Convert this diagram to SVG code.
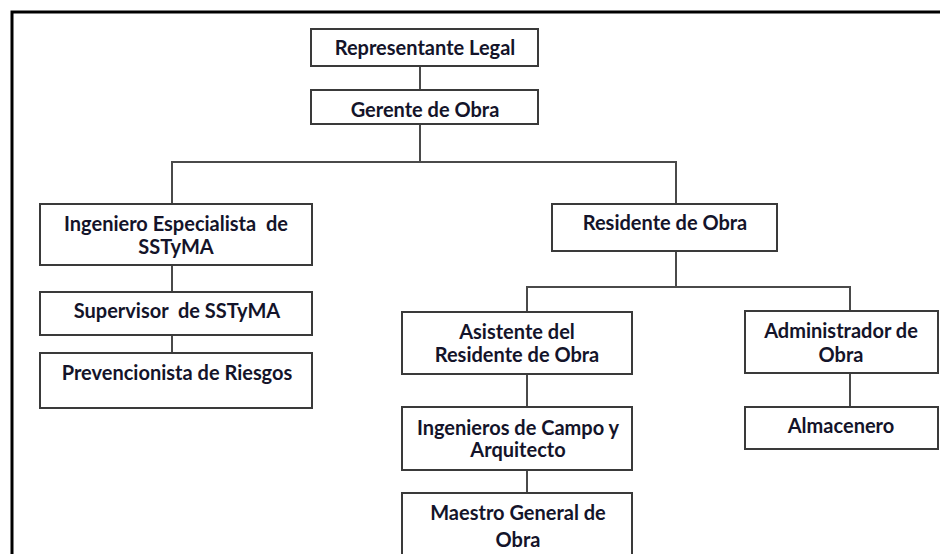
<svg xmlns="http://www.w3.org/2000/svg" width="940" height="554" viewBox="0 0 940 554">
<style>
.box{fill:#fff;stroke:#3a3a3a;stroke-width:2}
.lbl{font-family:Lato,"Liberation Sans",Arial,sans-serif;font-weight:bold;font-size:20px;fill:#14142a;text-anchor:middle;white-space:pre}
.con{fill:none;stroke:#4a4a4a;stroke-width:2}
.frame{fill:none;stroke:#000;stroke-width:3}
</style>
<rect width="940" height="554" fill="#fff"/>
<path class="frame" d="M12,560 V12 H942"/>
<g id="connectors">
<path class="con" d="M420,66 V90"/>
<path class="con" d="M420,124 V162"/>
<path class="con" d="M172,204 V162 H676 V204"/>
<path class="con" d="M172,265 V292"/>
<path class="con" d="M172,335 V353"/>
<path class="con" d="M676,251 V287"/>
<path class="con" d="M527,312 V287 H850 V311"/>
<path class="con" d="M527,374 V407"/>
<path class="con" d="M527,470 V493"/>
<path class="con" d="M850,373 V407"/>
</g>
<g id="representante">
<rect class="box" x="311" y="29" width="227" height="37"/>
<text class="lbl" x="425" y="55">Representante Legal</text>
</g>
<g id="gerente">
<rect class="box" x="311" y="90" width="227" height="34"/>
<text class="lbl" x="425" y="117">Gerente de Obra</text>
</g>
<g id="ingeniero-especialista">
<rect class="box" x="40" y="204" width="272" height="61"/>
<text class="lbl" x="176" y="231">Ingeniero Especialista  de</text>
<text class="lbl" x="176" y="254">SSTyMA</text>
</g>
<g id="supervisor">
<rect class="box" x="40" y="292" width="272" height="43"/>
<text class="lbl" x="177" y="318">Supervisor  de SSTyMA</text>
</g>
<g id="prevencionista">
<rect class="box" x="40" y="353" width="272" height="55"/>
<text class="lbl" x="177" y="380">Prevencionista de Riesgos</text>
</g>
<g id="residente">
<rect class="box" x="552" y="204" width="225" height="47"/>
<text class="lbl" x="665" y="230">Residente de Obra</text>
</g>
<g id="asistente">
<rect class="box" x="402" y="312" width="230" height="62"/>
<text class="lbl" x="517" y="339">Asistente del</text>
<text class="lbl" x="517" y="362">Residente de Obra</text>
</g>
<g id="administrador">
<rect class="box" x="745" y="311" width="193" height="62"/>
<text class="lbl" x="841" y="338">Administrador de</text>
<text class="lbl" x="841" y="362">Obra</text>
</g>
<g id="ingenieros-campo">
<rect class="box" x="402" y="407" width="230" height="63"/>
<text class="lbl" x="518" y="435">Ingenieros de Campo y</text>
<text class="lbl" x="518" y="457">Arquitecto</text>
</g>
<g id="almacenero">
<rect class="box" x="745" y="407" width="193" height="42"/>
<text class="lbl" x="841" y="433">Almacenero</text>
</g>
<g id="maestro">
<rect class="box" x="402" y="493" width="230" height="70"/>
<text class="lbl" x="518" y="520">Maestro General de</text>
<text class="lbl" x="518" y="547">Obra</text>
</g>
</svg>
